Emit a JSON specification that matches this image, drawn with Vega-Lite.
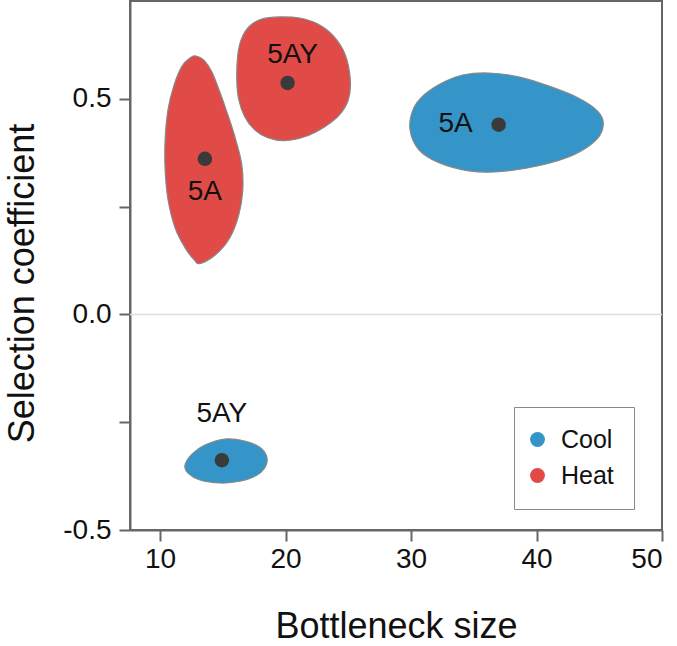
{
  "$schema": "https://vega.github.io/schema/vega-lite/v6.json",
  "width": 532,
  "height": 529,
  "autosize": "none",
  "padding": {"left": 130, "top": 1, "right": 15, "bottom": 116},
  "background": "white",
  "config": {
    "font": "Liberation Sans",
    "view": {"stroke": "#666666", "strokeWidth": 2},
    "axis": {
      "domainColor": "#666666",
      "domainWidth": 2,
      "tickColor": "#666666",
      "tickWidth": 2,
      "tickSize": 11,
      "labelColor": "#111111",
      "labelFontSize": 28,
      "labelFont": "Liberation Sans",
      "titleFont": "Liberation Sans",
      "titleFontSize": 36,
      "titleFontWeight": "normal",
      "titleColor": "#111111",
      "grid": false
    }
  },
  "datasets": {
    "blobs": [
      {"blob": "heat5A", "group": "Heat", "i": 0, "x": 12.86, "y": 0.5995},
      {"blob": "heat5A", "group": "Heat", "i": 1, "x": 13.49, "y": 0.590},
      {"blob": "heat5A", "group": "Heat", "i": 2, "x": 14.13, "y": 0.5625},
      {"blob": "heat5A", "group": "Heat", "i": 3, "x": 14.76, "y": 0.516},
      {"blob": "heat5A", "group": "Heat", "i": 4, "x": 15.40, "y": 0.463},
      {"blob": "heat5A", "group": "Heat", "i": 5, "x": 16.03, "y": 0.405},
      {"blob": "heat5A", "group": "Heat", "i": 6, "x": 16.51, "y": 0.347},
      {"blob": "heat5A", "group": "Heat", "i": 7, "x": 16.59, "y": 0.289},
      {"blob": "heat5A", "group": "Heat", "i": 8, "x": 16.27, "y": 0.231},
      {"blob": "heat5A", "group": "Heat", "i": 9, "x": 15.56, "y": 0.178},
      {"blob": "heat5A", "group": "Heat", "i": 10, "x": 14.44, "y": 0.139},
      {"blob": "heat5A", "group": "Heat", "i": 11, "x": 13.17, "y": 0.118},
      {"blob": "heat5A", "group": "Heat", "i": 12, "x": 12.70, "y": 0.127},
      {"blob": "heat5A", "group": "Heat", "i": 13, "x": 11.98, "y": 0.155},
      {"blob": "heat5A", "group": "Heat", "i": 14, "x": 11.19, "y": 0.201},
      {"blob": "heat5A", "group": "Heat", "i": 15, "x": 10.63, "y": 0.266},
      {"blob": "heat5A", "group": "Heat", "i": 16, "x": 10.40, "y": 0.336},
      {"blob": "heat5A", "group": "Heat", "i": 17, "x": 10.40, "y": 0.405},
      {"blob": "heat5A", "group": "Heat", "i": 18, "x": 10.63, "y": 0.475},
      {"blob": "heat5A", "group": "Heat", "i": 19, "x": 11.11, "y": 0.532},
      {"blob": "heat5A", "group": "Heat", "i": 20, "x": 11.75, "y": 0.576},
      {"blob": "heat5A", "group": "Heat", "i": 21, "x": 12.38, "y": 0.595},

      {"blob": "heat5AY", "group": "Heat", "i": 0, "x": 19.52, "y": 0.690},
      {"blob": "heat5AY", "group": "Heat", "i": 1, "x": 21.11, "y": 0.6875},
      {"blob": "heat5AY", "group": "Heat", "i": 2, "x": 22.54, "y": 0.674},
      {"blob": "heat5AY", "group": "Heat", "i": 3, "x": 23.81, "y": 0.646},
      {"blob": "heat5AY", "group": "Heat", "i": 4, "x": 24.76, "y": 0.602},
      {"blob": "heat5AY", "group": "Heat", "i": 5, "x": 25.16, "y": 0.544},
      {"blob": "heat5AY", "group": "Heat", "i": 6, "x": 25.0, "y": 0.498},
      {"blob": "heat5AY", "group": "Heat", "i": 7, "x": 24.29, "y": 0.463},
      {"blob": "heat5AY", "group": "Heat", "i": 8, "x": 23.10, "y": 0.435},
      {"blob": "heat5AY", "group": "Heat", "i": 9, "x": 21.51, "y": 0.412},
      {"blob": "heat5AY", "group": "Heat", "i": 10, "x": 19.92, "y": 0.403},
      {"blob": "heat5AY", "group": "Heat", "i": 11, "x": 18.57, "y": 0.410},
      {"blob": "heat5AY", "group": "Heat", "i": 12, "x": 17.54, "y": 0.428},
      {"blob": "heat5AY", "group": "Heat", "i": 13, "x": 16.75, "y": 0.458},
      {"blob": "heat5AY", "group": "Heat", "i": 14, "x": 16.27, "y": 0.498},
      {"blob": "heat5AY", "group": "Heat", "i": 15, "x": 16.11, "y": 0.544},
      {"blob": "heat5AY", "group": "Heat", "i": 16, "x": 16.19, "y": 0.602},
      {"blob": "heat5AY", "group": "Heat", "i": 17, "x": 16.51, "y": 0.641},
      {"blob": "heat5AY", "group": "Heat", "i": 18, "x": 17.14, "y": 0.669},
      {"blob": "heat5AY", "group": "Heat", "i": 19, "x": 18.10, "y": 0.685},

      {"blob": "cool5A", "group": "Cool", "i": 0, "x": 36.19, "y": 0.560},
      {"blob": "cool5A", "group": "Cool", "i": 1, "x": 38.57, "y": 0.551},
      {"blob": "cool5A", "group": "Cool", "i": 2, "x": 40.95, "y": 0.530},
      {"blob": "cool5A", "group": "Cool", "i": 3, "x": 43.33, "y": 0.502},
      {"blob": "cool5A", "group": "Cool", "i": 4, "x": 44.92, "y": 0.470},
      {"blob": "cool5A", "group": "Cool", "i": 5, "x": 45.32, "y": 0.440},
      {"blob": "cool5A", "group": "Cool", "i": 6, "x": 44.76, "y": 0.405},
      {"blob": "cool5A", "group": "Cool", "i": 7, "x": 42.94, "y": 0.370},
      {"blob": "cool5A", "group": "Cool", "i": 8, "x": 40.16, "y": 0.345},
      {"blob": "cool5A", "group": "Cool", "i": 9, "x": 36.98, "y": 0.331},
      {"blob": "cool5A", "group": "Cool", "i": 10, "x": 34.60, "y": 0.333},
      {"blob": "cool5A", "group": "Cool", "i": 11, "x": 32.22, "y": 0.352},
      {"blob": "cool5A", "group": "Cool", "i": 12, "x": 30.63, "y": 0.382},
      {"blob": "cool5A", "group": "Cool", "i": 13, "x": 29.92, "y": 0.428},
      {"blob": "cool5A", "group": "Cool", "i": 14, "x": 30.16, "y": 0.475},
      {"blob": "cool5A", "group": "Cool", "i": 15, "x": 31.03, "y": 0.509},
      {"blob": "cool5A", "group": "Cool", "i": 16, "x": 32.62, "y": 0.539},
      {"blob": "cool5A", "group": "Cool", "i": 17, "x": 34.21, "y": 0.556},

      {"blob": "cool5AY", "group": "Cool", "i": 0, "x": 15.16, "y": -0.289},
      {"blob": "cool5AY", "group": "Cool", "i": 1, "x": 16.75, "y": -0.294},
      {"blob": "cool5AY", "group": "Cool", "i": 2, "x": 17.94, "y": -0.308},
      {"blob": "cool5AY", "group": "Cool", "i": 3, "x": 18.49, "y": -0.329},
      {"blob": "cool5AY", "group": "Cool", "i": 4, "x": 18.41, "y": -0.352},
      {"blob": "cool5AY", "group": "Cool", "i": 5, "x": 17.70, "y": -0.373},
      {"blob": "cool5AY", "group": "Cool", "i": 6, "x": 16.35, "y": -0.387},
      {"blob": "cool5AY", "group": "Cool", "i": 7, "x": 14.76, "y": -0.391},
      {"blob": "cool5AY", "group": "Cool", "i": 8, "x": 13.17, "y": -0.384},
      {"blob": "cool5AY", "group": "Cool", "i": 9, "x": 12.22, "y": -0.368},
      {"blob": "cool5AY", "group": "Cool", "i": 10, "x": 11.98, "y": -0.350},
      {"blob": "cool5AY", "group": "Cool", "i": 11, "x": 12.54, "y": -0.324},
      {"blob": "cool5AY", "group": "Cool", "i": 12, "x": 13.57, "y": -0.303}
    ],
    "centers": [
      {"group": "Heat", "label": "5A", "x": 13.57, "y": 0.361, "lx": 13.57, "ly": 0.285},
      {"group": "Heat", "label": "5AY", "x": 20.16, "y": 0.537, "lx": 20.56, "ly": 0.602},
      {"group": "Cool", "label": "5A", "x": 36.98, "y": 0.440, "lx": 33.55, "ly": 0.442},
      {"group": "Cool", "label": "5AY", "x": 14.92, "y": -0.338, "lx": 14.92, "ly": -0.231}
    ],
    "zero": [{"y": 0}]
  },
  "layer": [
    {
      "data": {"name": "zero"},
      "mark": {"type": "rule", "color": "#dddddd", "strokeWidth": 1.5},
      "encoding": {"y": {"field": "y", "type": "quantitative"}}
    },
    {
      "data": {"name": "blobs"},
      "mark": {"type": "line", "interpolate": "cardinal-closed", "stroke": "#888888", "strokeWidth": 1.2, "filled": true, "fillOpacity": 1},
      "encoding": {
        "x": {"field": "x", "type": "quantitative",
              "scale": {"domain": [7.6, 50], "nice": false, "zero": false},
              "axis": {"values": [10, 20, 30, 40, 50], "title": "Bottleneck size", "labelFontSize": 28, "labelPadding": 4, "titleY": 96, "titleBaseline": "middle"}},
        "y": {"field": "y", "type": "quantitative",
              "scale": {"domain": [-0.5, 0.727], "nice": false, "zero": false},
              "axis": {"values": [-0.5, -0.25, 0, 0.25, 0.5], "labelExpr": "datum.value == -0.5 ? '-0.5' : datum.value == 0 ? '0.0' : datum.value == 0.5 ? '0.5' : ''", "labelFontSize": 28, "title": "Selection coefficient", "labelPadding": 8, "titleX": -108, "titleY": 282, "titleAngle": -90, "titleBaseline": "middle"}},
        "detail": {"field": "blob"},
        "order": {"field": "i", "type": "quantitative"},
        "fill": {"field": "group", "type": "nominal",
                 "scale": {"domain": ["Cool", "Heat"], "range": ["#3594c8", "#e04b47"]},
                 "legend": {"title": null, "orient": "none", "legendX": 384, "legendY": 406,
                            "symbolType": "circle", "symbolSize": 220, "symbolStrokeWidth": 0,
                            "labelFontSize": 25, "labelFont": "Liberation Sans", "labelColor": "#111111",
                            "rowPadding": 10, "padding": 20, "strokeColor": "#888888",
                            "labelOffset": 11, "symbolOffset": -9}}
      }
    },
    {
      "data": {"name": "centers"},
      "mark": {"type": "circle", "size": 210, "color": "#3a3a3a", "opacity": 1},
      "encoding": {
        "x": {"field": "x", "type": "quantitative"},
        "y": {"field": "y", "type": "quantitative"}
      }
    },
    {
      "data": {"name": "centers"},
      "mark": {"type": "text", "fontSize": 28, "font": "Liberation Sans", "color": "#111111"},
      "encoding": {
        "x": {"field": "lx", "type": "quantitative"},
        "y": {"field": "ly", "type": "quantitative"},
        "text": {"field": "label"}
      }
    }
  ]
}
